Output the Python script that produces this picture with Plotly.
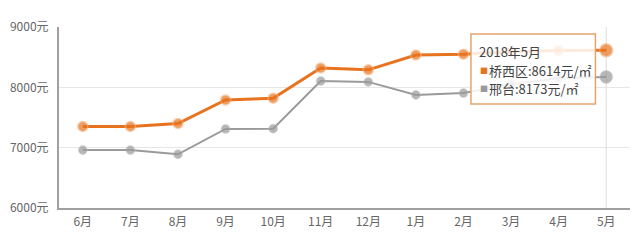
import plotly.graph_objects as go

months = ["6月", "7月", "8月", "9月", "10月", "11月", "12月", "1月", "2月", "3月", "4月", "5月"]
qiaoxi = [7350, 7350, 7400, 7790, 7820, 8320, 8290, 8535, 8550, 8590, 8610, 8614]
xingtai = [6960, 6960, 6890, 7310, 7315, 8105, 8090, 7875, 7905, 8050, 8150, 8173]
y_ticks = [6000, 7000, 8000, 9000]
y_labels = ["6000元", "7000元", "8000元", "9000元"]
tooltip_title = "2018年5月"
name_a = "桥西区"
name_b = "邢台"

ORANGE = "#e8731e"
GRAY = "#9a9a9a"
FONT = "Noto Sans CJK SC"

L, R, T, B = 52, 10, 27, 39
W, H = 640, 247
PW, PH = W - L - R, H - T - B


def px(xp):
    return (xp - L) / PW


def py(yp):
    return (H - B - yp) / PH


n = len(months)
fig = go.Figure()
fig.add_trace(go.Scatter(
    x=months, y=xingtai, mode="lines+markers", name=name_b,
    line=dict(color=GRAY, width=2),
    marker=dict(color=GRAY, size=[9] * (n - 1) + [13], line=dict(color="rgba(200,200,200,0.6)", width=1)),
))
fig.add_trace(go.Scatter(
    x=months, y=qiaoxi, mode="lines+markers", name=name_a,
    line=dict(color=ORANGE, width=3),
    marker=dict(color=ORANGE, size=[10] * (n - 1) + [13], line=dict(color="rgba(245,180,130,0.8)", width=1.5)),
))

fig.add_shape(type="line", xref="x", yref="paper", x0=months[-1], x1=months[-1], y0=0, y1=1,
              line=dict(color="#dcdcdc", width=1), layer="below")

# tooltip box
fig.add_shape(type="rect", xref="paper", yref="paper",
              x0=px(469), x1=px(595), y0=py(104), y1=py(34),
              fillcolor="rgba(255,255,255,0.85)", line=dict(color="#e3a56e", width=1.5), layer="above")

lines = [
    (None, tooltip_title, 51),
    (ORANGE, f"{name_a}:{qiaoxi[-1]}元/㎡", 70),
    (GRAY, f"{name_b}:{xingtai[-1]}元/㎡", 88),
]
for col, t, yy in lines:
    if col is None:
        fig.add_annotation(xref="paper", yref="paper", x=px(475), y=py(yy), xanchor="left", yanchor="middle",
                           text=t, showarrow=False, font=dict(family=FONT, size=13, color="#444"))
    else:
        fig.add_annotation(xref="paper", yref="paper", x=px(476), y=py(yy), xanchor="left", yanchor="middle",
                           text="■", showarrow=False, font=dict(family=FONT, size=8, color=col))
        fig.add_annotation(xref="paper", yref="paper", x=px(485), y=py(yy), xanchor="left", yanchor="middle",
                           text=t, showarrow=False, font=dict(family=FONT, size=13, color="#444"))

fig.update_layout(
    width=W, height=H,
    margin=dict(l=L, r=R, t=T, b=B),
    paper_bgcolor="white", plot_bgcolor="white",
    showlegend=False,
    font=dict(family=FONT, size=12, color="#666"),
    xaxis=dict(
        type="category", range=[-0.5, n - 0.5], showgrid=False,
        showline=True, linecolor="#a0a0a0", linewidth=1.5,
        ticks="", tickfont=dict(size=12, color="#666"), ticklabelstandoff=2,
        fixedrange=True,
    ),
    yaxis=dict(
        range=[6000, 9000], tickvals=y_ticks, ticktext=y_labels,
        showgrid=True, gridcolor="#e6e6e6", gridwidth=1,
        showline=True, linecolor="#a0a0a0", linewidth=2,
        zeroline=False, ticks="", tickfont=dict(size=12, color="#666"),
        ticklabelstandoff=6,
    ),
)

fig.write_html("out.html")
